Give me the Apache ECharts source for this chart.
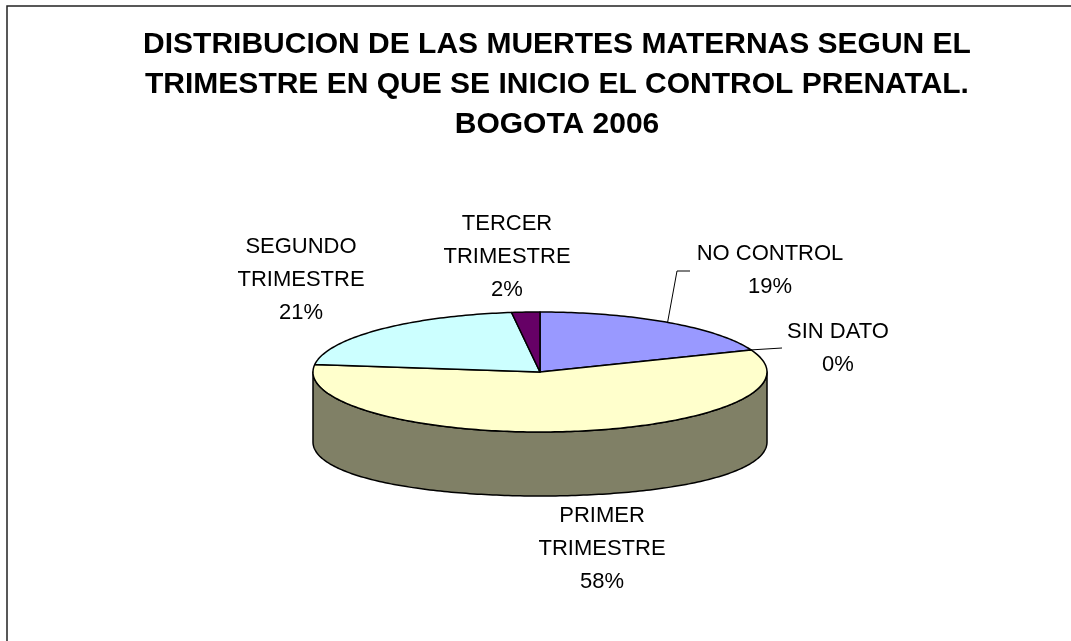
<!DOCTYPE html>
<html>
<head>
<meta charset="utf-8">
<script src="https://cdn.jsdelivr.net/npm/echarts@6/dist/echarts.min.js"></script>
<style>
html,body{margin:0;padding:0;background:#fff;}
#chart{width:1071px;height:641px;}
</style>
</head>
<body>
<div id="chart"></div>
<script>
// ---- data ----
const titleLines = ['DISTRIBUCION DE LAS MUERTES MATERNAS SEGUN EL', 'TRIMESTRE EN QUE SE INICIO EL CONTROL PRENATAL.', 'BOGOTA 2006'];
const categories = ['NO CONTROL', 'SIN DATO', 'PRIMER TRIMESTRE', 'SEGUNDO TRIMESTRE', 'TERCER TRIMESTRE'];
const labelNames = ['NO CONTROL', 'SIN DATO', 'PRIMER\nTRIMESTRE', 'SEGUNDO\nTRIMESTRE', 'TERCER\nTRIMESTRE'];
const values = [19, 0, 58, 21, 2];

// ---- styles / layout ----
const colors = ['#9999FF', '#993366', '#FFFFCC', '#CCFFFF', '#660066'];
const FONT = '"Liberation Sans", Arial, sans-serif';
const pie = { cx: 540, cy: 372, rx: 227, ry: 60, depth: 64, bottomSag: 6 };
const labelPos = [[770, 270], [838, 348], [602, 549], [301, 280], [507, 257]];
const leaderPts = [[[677, 271], [690, 271]], [[782, 348]], null, null, null];

const total = values.reduce((a, b) => a + b, 0);
const starts = [];
values.reduce((acc, v) => { starts.push(acc); return acc + v; }, 0);

function darken(hex, f) {
  const n = parseInt(hex.slice(1), 16);
  const r = Math.round(((n >> 16) & 255) * f), g = Math.round(((n >> 8) & 255) * f), b = Math.round((n & 255) * f);
  return 'rgb(' + r + ',' + g + ',' + b + ')';
}
function pt(deg, bottom) {
  const t = deg * Math.PI / 180;
  const s = Math.sin(t);
  let y = pie.cy - pie.ry * Math.cos(t);
  if (bottom) y += pie.depth + pie.bottomSag * s * s;
  return [pie.cx + pie.rx * s, y];
}
function arc(a, b, bottom) {
  const pts = [];
  const n = Math.max(2, Math.ceil(Math.abs(b - a)));
  for (let k = 0; k <= n; k++) pts.push(pt(a + (b - a) * k / n, bottom));
  return pts;
}

function renderItem(params, api) {
  const i = params.dataIndex;
  const v = api.value(0), st = api.value(1);
  const a0 = st / total * 360, a1 = (st + v) / total * 360;
  const children = [];
  if (v > 0) {
    const s = Math.max(a0, 90), e = Math.min(a1, 270);
    if (e > s) {
      children.push({
        type: 'polygon', z2: 1,
        shape: { points: arc(s, e, false).concat(arc(e, s, true)) },
        style: { fill: darken(colors[i], 0.5), stroke: '#000', lineWidth: 1.5, lineJoin: 'round' }
      });
    }
    children.push({
      type: 'polygon', z2: 5,
      shape: { points: [[pie.cx, pie.cy]].concat(arc(a0, a1, false)) },
      style: { fill: colors[i], stroke: '#000', lineWidth: 1.5, lineJoin: 'round' }
    });
  }
  const mid = (a0 + a1) / 2;
  if (leaderPts[i]) {
    children.push({
      type: 'polyline', z2: 6,
      shape: { points: [pt(mid, false)].concat(leaderPts[i]) },
      style: { stroke: '#000', lineWidth: 1, fill: null }
    });
  }
  const pct = Math.round(v / total * 100) + '%';
  children.push({
    type: 'text', z2: 10,
    style: {
      text: labelNames[i] + '\n' + pct,
      x: labelPos[i][0], y: labelPos[i][1],
      align: 'center', verticalAlign: 'middle',
      fontFamily: FONT, fontSize: 22, lineHeight: 33, fill: '#000'
    }
  });
  return { type: 'group', children: children };
}

const chart = echarts.init(document.getElementById('chart'), null, { renderer: 'canvas' });
chart.setOption({
  backgroundColor: '#fff',
  animation: false,
  graphic: [{
    type: 'rect', shape: { x: 7, y: 6, width: 1200, height: 800 },
    style: { fill: null, stroke: '#222', lineWidth: 1.5 }, z: 0
  }].concat(titleLines.map((t, k) => ({
    type: 'text', z: 10,
    style: {
      text: t, x: 557, y: 45 + k * 40, align: 'center', verticalAlign: 'middle',
      fontFamily: FONT, fontSize: 30, fontWeight: 'bold', fill: '#000'
    }
  }))),
  series: [{
    type: 'custom',
    coordinateSystem: 'none',
    renderItem: renderItem,
    data: values.map((v, i) => ({ name: categories[i], value: [v, starts[i]] }))
  }]
});
</script>
</body>
</html>
